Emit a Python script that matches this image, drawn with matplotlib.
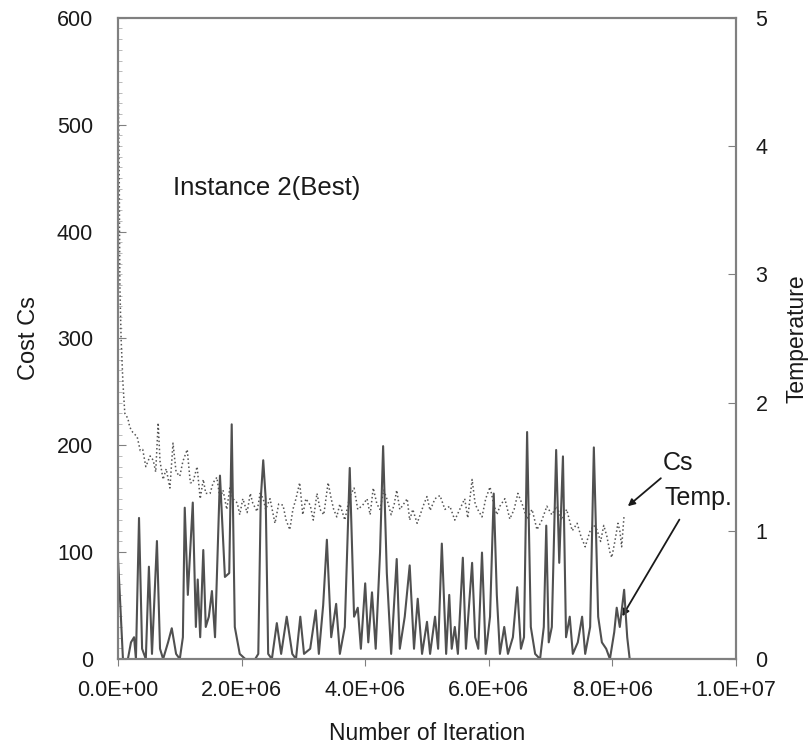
import matplotlib.pyplot as plt
from matplotlib.ticker import MultipleLocator, FuncFormatter

plt.rcParams['font.family'] = ['Liberation Sans', 'DejaVu Sans']

# Cs (cost) series, dotted, left axis -- iterations in millions
cs_iter = [0.00, 0.02, 0.03, 0.05, 0.08, 0.11, 0.16, 0.19, 0.24, 0.31,
           0.36, 0.40, 0.45, 0.52, 0.57, 0.61, 0.65, 0.68, 0.73, 0.78,
           0.84, 0.89, 0.94, 1.00, 1.05, 1.12, 1.17, 1.21, 1.28, 1.33,
           1.38, 1.42, 1.49, 1.54, 1.60, 1.65, 1.70, 1.76, 1.81, 1.86,
           1.93, 1.97, 2.02, 2.09, 2.14, 2.18, 2.25, 2.30, 2.35, 2.39,
           2.46, 2.54, 2.60, 2.67, 2.72, 2.78, 2.83, 2.88, 2.94, 2.99,
           3.04, 3.11, 3.16, 3.22, 3.27, 3.33, 3.40, 3.45, 3.49, 3.54,
           3.59, 3.67, 3.75, 3.82, 3.88, 3.96, 4.03, 4.08, 4.13, 4.19,
           4.24, 4.30, 4.35, 4.42, 4.47, 4.51, 4.56, 4.61, 4.68, 4.72,
           4.77, 4.84, 4.89, 4.95, 5.00, 5.05, 5.13, 5.21, 5.29, 5.37,
           5.45, 5.53, 5.61, 5.66, 5.73, 5.78, 5.82, 5.89, 5.95, 6.02,
           6.08, 6.13, 6.18, 6.26, 6.34, 6.41, 6.47, 6.54, 6.62, 6.70,
           6.78, 6.86, 6.94, 7.02, 7.10, 7.18, 7.26, 7.35, 7.43, 7.49,
           7.56, 7.64, 7.70, 7.75, 7.81, 7.86, 7.91, 7.96, 7.99, 8.04,
           8.09, 8.12, 8.15, 8.19]
cs_vals = [560, 450, 350, 300, 258, 230, 225, 217, 212, 208,
           195, 196, 180, 190, 186, 175, 221, 185, 168, 178,
           160, 202, 175, 171, 185, 196, 165, 165, 180, 150,
           168, 155, 155, 165, 170, 150, 158, 140, 160, 150,
           146, 135, 150, 137, 155, 146, 138, 155, 150, 140,
           150, 127, 145, 144, 130, 121, 140, 150, 165, 135,
           150, 144, 130, 155, 140, 135, 165, 150, 140, 133,
           145, 130, 152, 160, 140, 144, 150, 135, 160, 145,
           140, 158, 150, 135, 145, 158, 140, 144, 150, 130,
           140, 127, 135, 145, 152, 139, 150, 153, 140, 143,
           130, 140, 150, 132, 168, 145, 140, 133, 150, 161,
           145, 135, 143, 150, 131, 140, 155, 145, 131, 140,
           121, 130, 143, 135, 143, 130, 140, 120, 127, 115,
           105, 120, 125, 121, 110, 125, 115, 100, 95, 110,
           127, 120, 105, 135]

# Temperature series, solid, right axis -- iterations in millions
temp_iter = [0.00, 0.03, 0.08, 0.16, 0.21, 0.26, 0.29, 0.34, 0.39, 0.45,
             0.50, 0.55, 0.63, 0.68, 0.73, 0.81, 0.87, 0.94, 1.00, 1.05,
             1.08, 1.13, 1.21, 1.26, 1.29, 1.33, 1.38, 1.42, 1.47, 1.52,
             1.57, 1.65, 1.73, 1.80, 1.84, 1.89, 1.92, 1.97, 2.06, 2.22,
             2.27, 2.31, 2.35, 2.39, 2.43, 2.49, 2.57, 2.64, 2.73, 2.82,
             2.88, 2.95, 3.01, 3.11, 3.20, 3.25, 3.32, 3.38, 3.45, 3.53,
             3.59, 3.67, 3.75, 3.82, 3.88, 3.93, 4.00, 4.05, 4.11, 4.17,
             4.24, 4.29, 4.35, 4.42, 4.51, 4.56, 4.64, 4.72, 4.79, 4.85,
             4.92, 5.00, 5.05, 5.13, 5.18, 5.24, 5.31, 5.36, 5.40, 5.45,
             5.50, 5.58, 5.63, 5.73, 5.78, 5.83, 5.89, 5.95, 6.02, 6.08,
             6.13, 6.18, 6.25, 6.31, 6.39, 6.46, 6.52, 6.57, 6.62, 6.68,
             6.75, 6.83, 6.89, 6.93, 6.97, 7.02, 7.09, 7.14, 7.20, 7.25,
             7.31, 7.36, 7.44, 7.51, 7.56, 7.64, 7.70, 7.77, 7.83, 7.90,
             7.96, 8.03, 8.07, 8.12, 8.19, 8.24, 8.28, 10.0]
temp_vals = [0.79, 0.50, 0.00, 0.00, 0.13, 0.17, 0.00, 1.10, 0.08, 0.00,
             0.72, 0.04, 0.92, 0.08, 0.00, 0.13, 0.24, 0.04, 0.00, 0.17,
             1.18, 0.50, 1.22, 0.25, 0.62, 0.17, 0.85, 0.25, 0.33, 0.53,
             0.17, 1.43, 0.64, 0.67, 1.83, 0.25, 0.17, 0.04, 0.00, 0.00,
             0.04, 1.25, 1.55, 1.25, 0.04, 0.00, 0.28, 0.04, 0.33, 0.04,
             0.00, 0.33, 0.04, 0.08, 0.38, 0.04, 0.42, 0.93, 0.17, 0.43,
             0.04, 0.25, 1.49, 0.33, 0.40, 0.08, 0.59, 0.13, 0.52, 0.08,
             0.83, 1.66, 0.67, 0.04, 0.78, 0.08, 0.33, 0.73, 0.08, 0.47,
             0.04, 0.29, 0.04, 0.33, 0.08, 0.90, 0.04, 0.50, 0.08, 0.25,
             0.04, 0.79, 0.08, 0.75, 0.17, 0.08, 0.83, 0.04, 0.33, 1.29,
             0.50, 0.04, 0.25, 0.04, 0.17, 0.56, 0.08, 0.17, 1.77, 0.25,
             0.04, 0.00, 0.25, 1.04, 0.13, 0.25, 1.63, 0.75, 1.58, 0.17,
             0.33, 0.04, 0.13, 0.33, 0.04, 0.25, 1.65, 0.33, 0.13, 0.08,
             0.00, 0.21, 0.40, 0.25, 0.54, 0.17, 0.00, 0.00]

x_ticks = [0, 2e6, 4e6, 6e6, 8e6, 1e7]

fig = plt.figure(figsize=(8.11, 7.5), dpi=100)
ax = fig.add_axes([0.1455, 0.1213, 0.762, 0.855])
ax2 = ax.twinx()

ax.plot([v * 1e6 for v in cs_iter], cs_vals, linestyle=':', color='#555555', linewidth=1.1)
ax2.plot([v * 1e6 for v in temp_iter], temp_vals, linestyle='-', color='#505050', linewidth=1.5)

ax.set_xlim(0, 1e7)
ax.set_ylim(0, 600)
ax2.set_ylim(0, 5)
ax.set_xticks(x_ticks)
ax.xaxis.set_major_formatter(FuncFormatter(lambda v, p: f"{v:.1E}"))
ax.yaxis.set_major_locator(MultipleLocator(100))
ax.yaxis.set_minor_locator(MultipleLocator(10))
ax2.yaxis.set_major_locator(MultipleLocator(1))

for a in (ax, ax2):
    for s in a.spines.values():
        s.set_color('#808080')
        s.set_linewidth(1.5)

ax.tick_params(axis='x', direction='out', length=5, labelsize=15.5, colors='#808080',
               labelcolor='#1a1a1a', pad=10)
ax.tick_params(axis='y', which='major', direction='in', length=6, labelsize=15.5,
               colors='#808080', labelcolor='#1a1a1a', pad=18)
ax.tick_params(axis='y', which='minor', direction='in', length=3, colors='#b0b0b0')
ax2.tick_params(axis='y', direction='in', length=6, labelsize=15.5, colors='#808080',
                labelcolor='#1a1a1a', pad=14)

ax.set_xlabel("Number of Iteration", fontsize=16.5, color='#1a1a1a', labelpad=15)
ax.set_ylabel("Cost Cs", fontsize=17, color='#1a1a1a', labelpad=12)
ax2.set_ylabel("Temperature", fontsize=16.5, color='#1a1a1a', labelpad=13)

ax.text(0.89e6, 441, "Instance 2(Best)", fontsize=18.5, color='#1a1a1a', va='center')

ax.annotate("Cs", xy=(8.25e6, 143), xytext=(8.82e6, 183), fontsize=18, color='#1a1a1a',
            va='center', arrowprops=dict(arrowstyle='-|>', color='#1a1a1a', lw=1.3,
                                         shrinkA=0, shrinkB=0, mutation_scale=10))
ax.annotate("Temp.", xy=(8.16e6, 40), xytext=(8.85e6, 151), fontsize=18, color='#1a1a1a',
            va='center', arrowprops=dict(arrowstyle='-|>', color='#1a1a1a', lw=1.3,
                                         shrinkA=6, shrinkB=0, mutation_scale=10,
                                         relpos=(0.3, 0)))

fig.savefig("out.png", dpi=100)
